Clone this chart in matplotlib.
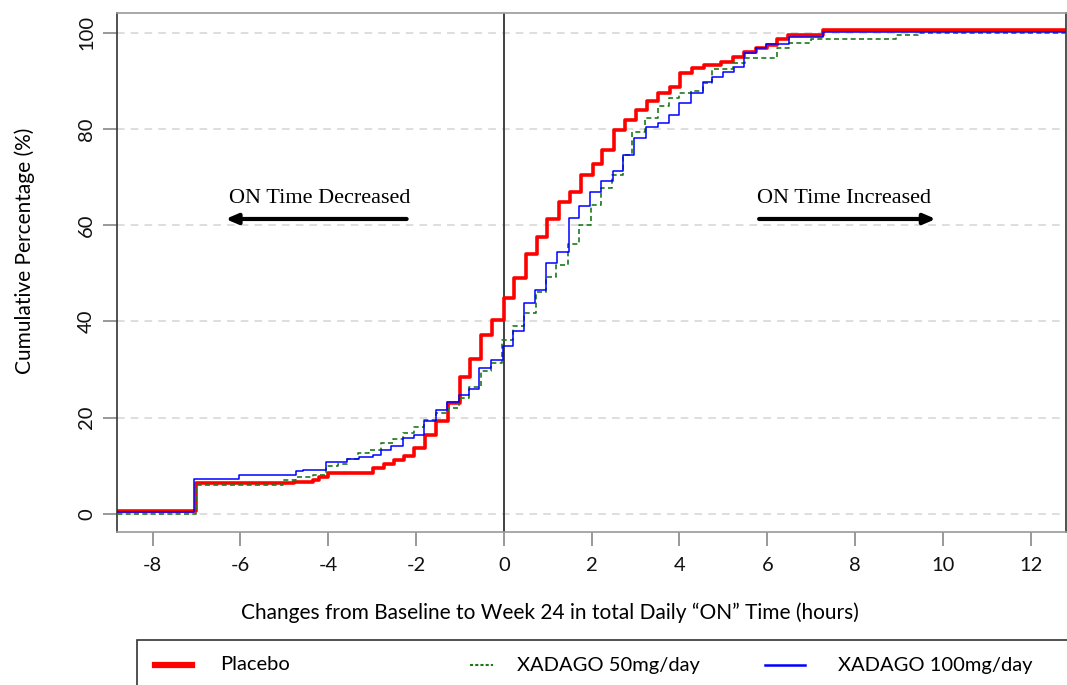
import matplotlib
matplotlib.use('Agg')
import matplotlib.pyplot as plt
from matplotlib.lines import Line2D
from matplotlib.patches import Rectangle

plt.rcParams['font.family'] = ['Lato', 'DejaVu Sans']

# Step curves (x = change in hours where step happens, y = cumulative % after step)
placebo_x = [-9, -7.0, -4.77, -4.35, -4.2, -4.0, -2.98, -2.72, -2.5, -2.27, -2.05, -1.8,
             -1.54, -1.28, -1.0, -0.77, -0.52, -0.26, 0.0, 0.23, 0.5, 0.75, 0.99, 1.26,
             1.51, 1.75, 2.02, 2.24, 2.51, 2.77, 3.0, 3.25, 3.51, 3.78, 4.02, 4.29, 4.55,
             4.95, 5.21, 5.47, 5.74, 6.0, 6.23, 6.48, 7.26, 13]
placebo_y = [0.6, 6.3, 6.6, 7.0, 7.6, 8.4, 9.5, 10.4, 11.2, 12.1, 13.7, 16.4,
             19.2, 23.0, 28.4, 32.2, 37.1, 40.2, 44.9, 49.1, 54.1, 57.6, 61.4, 64.9,
             67.0, 70.4, 72.8, 75.6, 79.8, 81.9, 84.0, 85.8, 87.6, 88.8, 91.6, 92.8, 93.3,
             93.9, 94.9, 96.0, 96.9, 97.5, 98.7, 99.5, 100.6, 100.6]

x50_x = [-9, -7.02, -5.03, -4.73, -4.35, -4.05, -3.78, -3.56, -3.33, -3.06, -2.8, -2.53,
         -2.3, -2.04, -1.81, -1.54, -1.28, -1.01, -0.79, -0.52, -0.29, -0.04, 0.2, 0.47,
         0.73, 0.96, 1.19, 1.46, 1.72, 1.98, 2.21, 2.46, 2.72, 2.93, 3.21, 3.5, 3.75,
         4.0, 4.26, 4.53, 4.75, 5.23, 5.49, 6.23, 6.5, 6.99, 8.93, 9.42, 13]
x50_y = [0.0, 6.0, 7.1, 7.6, 8.1, 10.0, 10.4, 11.3, 12.6, 13.3, 14.7, 15.5,
         16.8, 18.0, 19.5, 20.9, 22.0, 24.1, 26.4, 29.6, 31.3, 36.2, 39.1, 41.7,
         46.2, 49.3, 51.8, 56.2, 60.1, 64.2, 67.7, 70.5, 74.6, 79.3, 82.3, 84.7, 86.4,
         87.6, 88.0, 89.5, 92.6, 93.7, 94.7, 96.8, 98.0, 98.8, 99.6, 100.0, 100.0]

x100_x = [-9, -7.05, -6.02, -4.73, -4.58, -4.05, -3.56, -3.29, -2.99, -2.8, -2.57, -2.3,
          -2.04, -1.81, -1.54, -1.29, -1.03, -0.79, -0.56, -0.29, -0.03, 0.2, 0.47, 0.72,
          0.96, 1.2, 1.48, 1.72, 1.96, 2.21, 2.48, 2.72, 2.97, 3.24, 3.5, 3.75, 4.0,
          4.26, 4.53, 4.75, 4.98, 5.25, 5.47, 5.74, 5.97, 6.5, 7.26, 13]
x100_y = [0.3, 7.2, 8.1, 8.8, 9.1, 10.7, 11.4, 11.8, 12.3, 13.2, 14.0, 15.7,
          16.4, 19.2, 21.6, 23.3, 24.7, 26.0, 30.3, 31.9, 34.8, 37.9, 43.8, 46.6,
          52.1, 54.5, 61.5, 63.9, 67.0, 69.1, 71.2, 74.6, 78.1, 80.4, 81.2, 83.0, 85.5,
          87.6, 89.8, 90.9, 91.8, 93.0, 95.8, 96.8, 97.7, 99.1, 100.2, 100.2]

x_ticks = [-8, -6, -4, -2, 0, 2, 4, 6, 8, 10, 12]
y_ticks = [0, 20, 40, 60, 80, 100]

fig = plt.figure(figsize=(10.67, 6.85), dpi=100)
ax = fig.add_axes([0.110, 0.2234, 0.889, 0.758])

# dashed horizontal guides
for yv in y_ticks:
    ax.axhline(yv, color='#d4d4d4', lw=1.1, ls=(0, (5, 4)), zorder=0)
ax.axvline(0, color='#333333', lw=1.3, zorder=1)

ax.step(placebo_x, placebo_y, where='post', color='#ff0000', lw=2.6, zorder=2)
ax.step(x50_x, x50_y, where='post', color='#1a7a1a', lw=1.2, ls=(0, (3, 2)), zorder=3)
ax.step(x100_x, x100_y, where='post', color='#0000ff', lw=1.1, zorder=4)

ax.set_xlim(-8.8, 12.8)
ax.set_ylim(-3.8, 104.2)
ax.set_xticks(x_ticks)
ax.set_yticks(y_ticks)
ax.set_xticklabels([str(v) for v in x_ticks], fontsize=14.5)
ax.set_yticklabels([str(v) for v in y_ticks], fontsize=14.5, rotation=90, va='center')
ax.tick_params(axis='both', length=10, color='#888888', width=1.2, labelcolor='#111111')
ax.tick_params(axis='x', pad=8)
ax.tick_params(axis='y', pad=6)

for side in ['left', 'right']:
    ax.spines[side].set_color('#333333')
for side in ['top', 'bottom']:
    ax.spines[side].set_color('#999999')
for s in ax.spines.values():
    s.set_linewidth(1.2)

ax.set_xlabel('Changes from Baseline to Week 24 in total Daily \u201cON\u201d Time (hours)',
              fontsize=15)
ax.xaxis.set_label_coords(0.456, -0.135)
ax.set_ylabel('Cumulative Percentage (%)', fontsize=15)
ax.yaxis.set_label_coords(-0.087, 0.541)

# direction annotations
ax.text(-4.2, 65.5, 'ON Time Decreased', family='Liberation Serif', fontsize=16,
        ha='center', va='center')
ax.annotate('', xy=(-6.4, 61.3), xytext=(-2.15, 61.3),
            arrowprops=dict(arrowstyle='-|>,head_length=0.7,head_width=0.3',
                            color='black', lw=3))
ax.text(7.75, 65.5, 'ON Time Increased', family='Liberation Serif', fontsize=16,
        ha='center', va='center')
ax.annotate('', xy=(9.9, 61.3), xytext=(5.75, 61.3),
            arrowprops=dict(arrowstyle='-|>,head_length=0.7,head_width=0.3',
                            color='black', lw=3))

# legend box below the plot
W, H = 1067.0, 685.0
fig.add_artist(Rectangle((137 / W, -0.05), 1.0, (H - 640) / H + 0.05,
                         transform=fig.transFigure, fill=False,
                         edgecolor='#333333', lw=1.2, clip_on=False))
ly = 1 - 665 / H
fig.add_artist(Line2D([155 / W, 192 / W], [ly, ly], transform=fig.transFigure,
                      color='#ff0000', lw=4.5))
fig.text(220 / W, ly, 'Placebo', fontsize=14.5, va='center')
fig.add_artist(Line2D([470 / W, 493 / W], [ly, ly], transform=fig.transFigure,
                      color='#1a7a1a', lw=1.5, ls=(0, (1.5, 1))))
fig.text(517 / W, ly, 'XADAGO 50mg/day', fontsize=14.5, va='center')
fig.add_artist(Line2D([765 / W, 805 / W], [ly, ly], transform=fig.transFigure,
                      color='#0000ff', lw=1.8))
fig.text(838 / W, ly, 'XADAGO 100mg/day', fontsize=14.5, va='center')

fig.savefig('out.png', dpi=100)
